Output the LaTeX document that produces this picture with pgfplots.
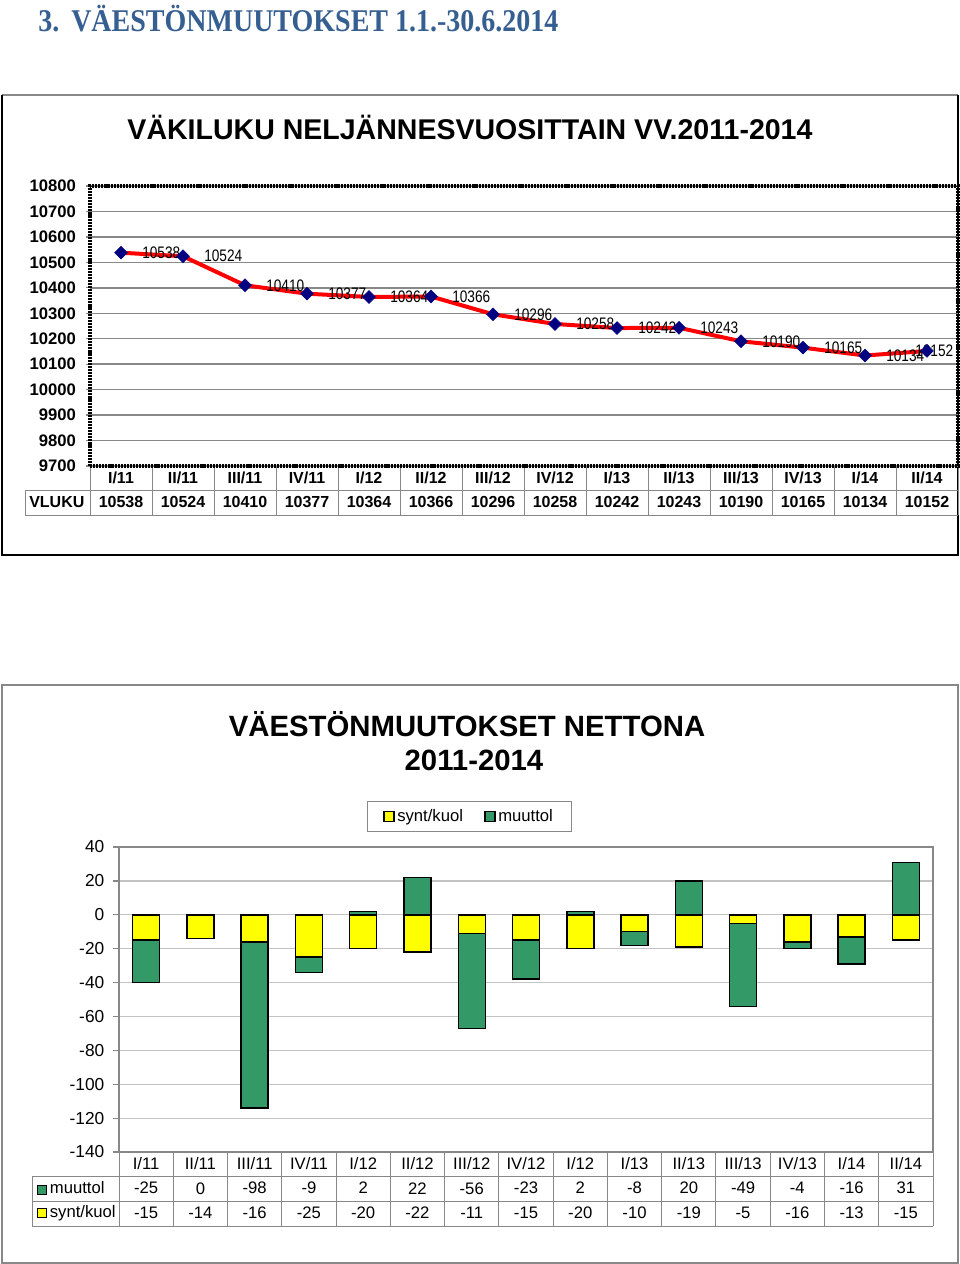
\documentclass[border=0pt]{standalone}
\usepackage{pgfplots}
\pgfplotsset{compat=1.18}
\usepackage{fontspec}
\setmainfont{Liberation Sans}
\newfontfamily\headfont{Liberation Serif}
\definecolor{headblue}{RGB}{54,95,145}
\definecolor{gridgray}{RGB}{136,136,136}
\definecolor{lightgrid}{RGB}{195,195,195}
\definecolor{myyellow}{RGB}{255,255,0}
\definecolor{mygreen}{RGB}{51,153,102}
\definecolor{navyblue}{RGB}{0,0,128}
\setlength{\fboxsep}{0pt}
\setlength{\fboxrule}{0.7pt}
\begin{document}
\begin{tikzpicture}[x=0.75pt,y=-0.75pt]
\useasboundingbox (0,0) rectangle (960,1264);

% heading
\node[anchor=base west, inner sep=0, text=headblue, font=\headfont\bfseries\fontsize{21}{25}\selectfont] at (38,31) {\scalebox{1.0}[1.13]{3.\hspace{9pt}VÄESTÖNMUUTOKSET 1.1.-30.6.2014}};

% ---------- box 1 ----------
\draw[gridgray, line width=1.5pt] (2,95) -- (958,95);
\draw[black, line width=2.2pt] (2,95) -- (2,555) -- (958,555) -- (958,95);
\node[anchor=base, inner sep=0, font=\bfseries\fontsize{21.4}{25}\selectfont] at (470,139) {VÄKILUKU NELJÄNNESVUOSITTAIN VV.2011-2014};

% table 1 grid
\foreach \k in {0,...,14} \draw[gridgray, line width=0.75pt] ({90+62*\k},466) -- ({90+62*\k},515);
\draw[gridgray, line width=0.75pt] (25,490) -- (958,490) (25,515) -- (958,515) (25,490) -- (25,515);
\node[anchor=west, inner sep=0, font=\bfseries\fontsize{12}{14}\selectfont] at (29,502) {VLUKU};

\begin{axis}[
  at={(67.5pt,-349.5pt)}, anchor=south west, scale only axis,
  width=651pt, height=210pt,
  xmin=-0.5, xmax=13.5, ymin=9700, ymax=10800,
  ytick={9700,9800,...,10800},
  scaled y ticks=false,
  ytick pos=left,
  xtick={0,...,13},
  xticklabels={{I/11\\10538},{II/11\\10524},{III/11\\10410},{IV/11\\10377},{I/12\\10364},{II/12\\10366},{III/12\\10296},{IV/12\\10258},{I/13\\10242},{II/13\\10243},{III/13\\10190},{IV/13\\10165},{I/14\\10134},{II/14\\10152}},
  ymajorgrids, grid style={gridgray, line width=1.1pt},
  axis line style={black, line width=2.3pt, dash pattern=on 1.6pt off 0.7pt},
  tick align=outside, major tick length=3pt,
  ytick style={gridgray, line width=0.9pt},
  xtick style={draw=none},
  /pgf/number format/assume math mode=true,
  /pgf/number format/1000 sep={},
  yticklabel style={font=\bfseries\fontsize{12.5}{15}\selectfont, xshift=-4pt, /pgf/number format/fixed},
  xticklabel style={font=\bfseries\fontsize{12}{18}\selectfont, align=center, anchor=center, yshift=-15pt},
  clip=false,
]
\addplot[red, line width=3pt, line join=round, mark=none] coordinates {
(0,10538) (1,10524) (2,10410) (3,10377) (4,10364) (5,10366) (6,10296) (7,10258) (8,10242) (9,10243) (10,10190) (11,10165) (12,10134) (13,10152)};
\addplot[draw=none, mark=none, nodes near coords={\scalebox{0.82}[1]{\pgfmathprintnumber{\pgfplotspointmeta}}},
  nodes near coords style={anchor=west, inner sep=0, xshift=15.75pt, text=black, font=\fontsize{12.5}{14}\selectfont}] coordinates {
(0,10538) (1,10524) (2,10410) (3,10377) (4,10364) (5,10366) (6,10296) (7,10258) (8,10242) (9,10243) (10,10190) (11,10165) (12,10134)};
\addplot[draw=none, mark=none, nodes near coords={\scalebox{0.82}[1]{\pgfmathprintnumber{\pgfplotspointmeta}}},
  nodes near coords style={anchor=west, inner sep=0, xshift=-9pt, text=black, font=\fontsize{12.5}{14}\selectfont}] coordinates {
(13,10152)};
\addplot[only marks, mark=square*, mark size=3.4pt, mark options={rotate=45, fill=navyblue, draw=navyblue}] coordinates {
(0,10538) (1,10524) (2,10410) (3,10377) (4,10364) (5,10366) (6,10296) (7,10258) (8,10242) (9,10243) (10,10190) (11,10165) (12,10134) (13,10152)};
\end{axis}

% ---------- box 2 ----------
\draw[gridgray, line width=1.1pt] (2,685) rectangle (958,1263);
\node[anchor=base, inner sep=0, font=\bfseries\fontsize{22}{26}\selectfont] at (467,736) {VÄESTÖNMUUTOKSET NETTONA};
\node[anchor=base, inner sep=0, font=\bfseries\fontsize{22}{26}\selectfont] at (474,770) {2011-2014};

% table 2 grid
\foreach \k in {0,...,15} \draw[gridgray, line width=0.75pt] ({119+54.27*\k},1152) -- ({119+54.27*\k},1226);
\draw[gridgray, line width=0.75pt] (32,1176) -- (933,1176) (32,1201) -- (933,1201) (32,1226) -- (933,1226) (32,1176) -- (32,1226);
\node[anchor=west, inner sep=0, font=\fontsize{12.5}{15}\selectfont] at (37,1188) {\fcolorbox{black}{mygreen}{\phantom{\rule{6pt}{6pt}}}\,muuttol};
\node[anchor=west, inner sep=0, font=\fontsize{12.5}{15}\selectfont] at (37,1213) {\fcolorbox{black}{myyellow}{\phantom{\rule{6pt}{6pt}}}\,synt/kuol};

\begin{axis}[
  at={(89.25pt,-864pt)}, anchor=south west, scale only axis,
  width=610.5pt, height=228.75pt,
  ybar,
  xmin=-0.5, xmax=14.5, ymin=-140, ymax=40,
  ytick={-140,-120,...,40},
  ytick pos=left,
  xtick={0,...,14},
  xticklabels={{I/11\\-25\\-15},{II/11\\0\\-14},{III/11\\-98\\-16},{IV/11\\-9\\-25},{I/12\\2\\-20},{II/12\\22\\-22},{III/12\\-56\\-11},{IV/12\\-23\\-15},{I/12\\2\\-20},{I/13\\-8\\-10},{II/13\\20\\-19},{III/13\\-49\\-5},{IV/13\\-4\\-16},{I/14\\-16\\-13},{II/14\\31\\-15}},
  ymajorgrids, grid style={lightgrid, line width=0.9pt},
  axis line style={gridgray, line width=1.1pt},
  tick align=outside, major tick length=4.5pt,
  ytick style={gridgray, line width=0.9pt},
  xtick style={draw=none},
  /pgf/number format/assume math mode=true,
  yticklabel style={font=\fontsize{13}{15}\selectfont, xshift=-3pt},
  xticklabel style={font=\fontsize{12.5}{18.4}\selectfont, align=center, anchor=center, yshift=-22.5pt},
  legend style={at={(0.4306,1.1)}, anchor=center, draw=gridgray, line width=0.9pt, legend columns=2,
     font=\fontsize{12.5}{15}\selectfont, inner xsep=12pt, inner ysep=4pt,
     /tikz/every even column/.append style={column sep=14pt}},
  reverse legend,
  clip=false,
]
\addplot[bar shift=0pt, bar width=20.25pt, fill=mygreen, draw=black, line width=1.1pt,
  legend image code/.code={\draw[fill=mygreen,draw=black,line width=0.9pt] (0pt,-3.75pt) rectangle (7.5pt,3.75pt);}] coordinates {
(0,-40) (2,-114) (3,-34) (4,2) (5,22) (6,-67) (7,-38) (8,2) (9,-18) (10,20) (11,-54) (12,-20) (13,-29) (14,31)};
\addlegendentry{muuttol}
\addplot[bar shift=0pt, bar width=20.25pt, fill=myyellow, draw=black, line width=1.1pt,
  legend image code/.code={\draw[fill=myyellow,draw=black,line width=0.9pt] (0pt,-3.75pt) rectangle (7.5pt,3.75pt);}] coordinates {
(0,-15) (1,-14) (2,-16) (3,-25) (4,-20) (5,-22) (6,-11) (7,-15) (8,-20) (9,-10) (10,-19) (11,-5) (12,-16) (13,-13) (14,-15)};
\addlegendentry{synt/kuol}
\end{axis}
\end{tikzpicture}
\end{document}
